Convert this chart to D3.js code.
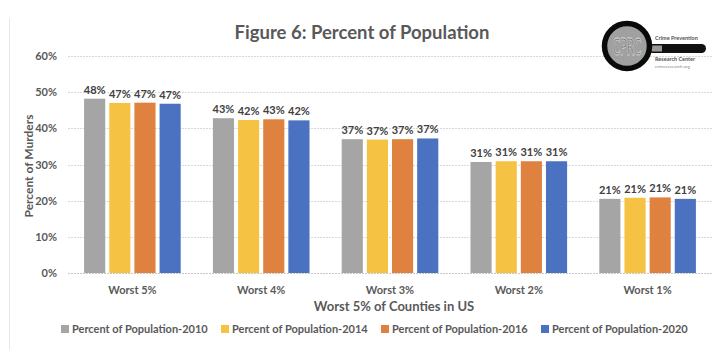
<!DOCTYPE html>
<html><head><meta charset="utf-8">
<script src="https://cdn.jsdelivr.net/npm/d3@7"></script>
<style>body{margin:0;background:#fff;}svg{display:block;font-family:Lato,"Open Sans",sans-serif;}</style>
</head><body>
<script>
const categories = ["Worst 5%","Worst 4%","Worst 3%","Worst 2%","Worst 1%"];
const seriesNames = ["Percent of Population-2010","Percent of Population-2014","Percent of Population-2016","Percent of Population-2020"];
const pop2010 = [48.2, 42.8, 37.0, 30.7, 20.5];
const pop2014 = [47.0, 42.3, 36.9, 30.9, 20.8];
const pop2016 = [47.1, 42.5, 37.0, 30.9, 20.9];
const pop2020 = [46.8, 42.2, 37.2, 30.9, 20.5];
const yTicks = [0,10,20,30,40,50,60];
const colors = ["#A5A5A5","#F5C243","#E0823F","#4A72C0"];

const W=724,H=355;
const series=[pop2010,pop2014,pop2016,pop2020];
const svg=d3.select("body").append("svg").attr("width",W).attr("height",H);
const m={l:68,r:12,t:56,b:82};
const x0=d3.scaleBand().domain(categories).range([m.l,W-m.r]).paddingInner(0.25).paddingOuter(0.125);
const x1=d3.scaleBand().domain(d3.range(4)).range([0,x0.bandwidth()]).paddingInner(0.16);
const y=d3.scaleLinear().domain([0,60]).range([H-m.b,m.t]);

// border
svg.append("line").attr("x1",9.5).attr("x2",9.5).attr("y1",18).attr("y2",350).attr("stroke","#e6e6e6");

// grid
svg.append("g").selectAll("line").data(yTicks).join("line")
 .attr("x1",m.l).attr("x2",W-m.r).attr("y1",d=>Math.round(y(d))+0.5).attr("y2",d=>Math.round(y(d))+0.5)
 .attr("stroke",d=>d===0?"#c8c8c8":"#d9d9d9").attr("stroke-dasharray","2,1");
svg.append("g").selectAll("text").data(yTicks).join("text")
 .attr("x",57).attr("y",d=>y(d)+4).attr("text-anchor","end").attr("font-size",11).attr("font-weight",700)
 .attr("fill","#595959").text(d=>d+"%");

// bars
const g=svg.append("g").selectAll("g").data(categories).join("g").attr("transform",c=>`translate(${x0(c)},0)`);
g.selectAll("rect").data((c,i)=>series.map((s,k)=>({k,v:s[i]}))).join("rect")
 .attr("x",d=>x1(d.k)).attr("width",x1.bandwidth()).attr("y",d=>y(d.v)).attr("height",d=>y(0)-y(d.v))
 .attr("fill",d=>colors[d.k]);
g.selectAll("text").data((c,i)=>series.map((s,k)=>({k,v:s[i]}))).join("text")
 .attr("x",d=>x1(d.k)+x1.bandwidth()/2).attr("y",d=>y(d.v)-5).attr("text-anchor","middle")
 .attr("font-size",11).attr("font-weight",700).attr("fill","#404040").text(d=>Math.round(d.v)+"%");

// category labels
svg.append("g").selectAll("text").data(categories).join("text")
 .attr("x",c=>x0(c)+x0.bandwidth()/2).attr("y",294).attr("text-anchor","middle")
 .attr("font-size",11).attr("font-weight",700).attr("fill","#595959").text(c=>c);

// axis titles
svg.append("text").attr("x",(m.l+W-m.r)/2+4).attr("y",311).attr("text-anchor","middle")
 .attr("font-size",13).attr("font-weight",700).attr("fill","#595959").text("Worst 5% of Counties in US");
svg.append("text").attr("transform","translate(33,166) rotate(-90)").attr("text-anchor","middle")
 .attr("font-size",12).attr("font-weight",700).attr("fill","#595959").text("Percent of Murders");

// title
svg.append("text").attr("x",362).attr("y",39).attr("text-anchor","middle")
 .attr("font-size",18.5).attr("font-weight",700).attr("fill","#595959").text("Figure 6: Percent of Population");

// legend
const lg=svg.append("g").selectAll("g").data(seriesNames).join("g")
 .attr("transform",(d,i)=>`translate(${61+i*160},329)`);
lg.append("rect").attr("x",0).attr("y",-4).attr("width",8).attr("height",8).attr("fill",(d,i)=>colors[i]);
lg.append("text").attr("x",11).attr("y",4).attr("font-size",11).attr("font-weight",700).attr("fill","#595959").text(d=>d);

// logo
const lo=svg.append("g");
lo.append("rect").attr("x",648).attr("y",44).attr("width",58).attr("height",9).attr("rx",4.5).attr("fill","#111");
lo.append("rect").attr("x",648).attr("y",45.5).attr("width",14).attr("height",6).attr("fill","#999");
lo.append("circle").attr("cx",627).attr("cy",46).attr("r",22.5).attr("fill","#a0a0a0").attr("stroke","#0a0a0a").attr("stroke-width",5.5);
lo.append("text").attr("transform","translate(627,55) scale(1,1.9)").attr("text-anchor","middle").attr("font-size",12)
 .attr("font-family","'Liberation Sans Narrow','DejaVu Sans Condensed',sans-serif")
 .attr("fill","#555").attr("stroke","#e0e0e0").attr("stroke-width",0.4).text("CPRC");
lo.append("text").attr("x",655).attr("y",40).attr("font-size",5.5).attr("font-weight",700).attr("fill","#555").text("Crime Prevention");
lo.append("text").attr("x",655).attr("y",60.5).attr("font-size",5.5).attr("font-weight",700).attr("fill","#555").text("Research Center");
lo.append("text").attr("x",655).attr("y",67.5).attr("font-size",4.5).attr("fill","#888").text("crimeresearch.org");
</script>
</body></html>
